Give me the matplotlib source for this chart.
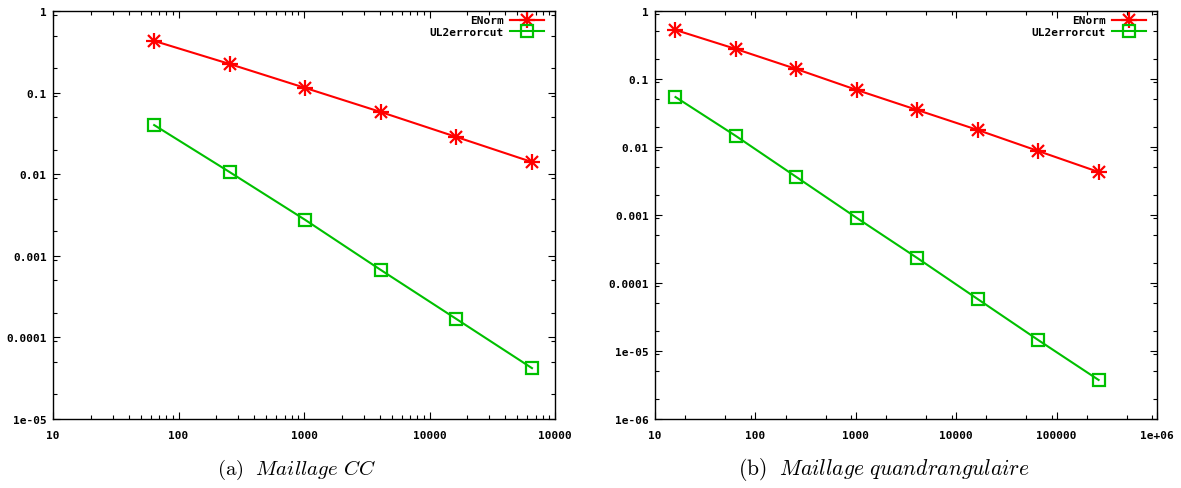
import numpy as np
import matplotlib
matplotlib.use("Agg")
import matplotlib.pyplot as plt
from matplotlib.ticker import LogLocator, NullFormatter

# left panel: Maillage CC
n_cc = [64, 256, 1024, 4096, 16384, 65536]
enorm_cc = [0.43, 0.224, 0.114, 0.0578, 0.0286, 0.0141]
ul2_cc = [0.040, 0.0106, 0.00275, 6.7e-4, 1.68e-4, 4.2e-5]

# right panel: Maillage quadrangulaire
n_q = [16, 64, 256, 1024, 4096, 16384, 65536, 262144]
enorm_q = [0.526, 0.276, 0.140, 0.0689, 0.035, 0.0178, 0.00873, 0.00429]
ul2_q = [0.0543, 0.0145, 0.00362, 9.04e-4, 2.33e-4, 5.8e-5, 1.45e-5, 3.75e-6]

xticks_cc = [10, 100, 1000, 10000, 100000]
xlabels_cc = ["10", "100", "1000", "10000", "10000"]
yticks_cc = [1, 0.1, 0.01, 0.001, 0.0001, 1e-5]
ylabels_cc = ["1", "0.1", "0.01", "0.001", "0.0001", "1e-05"]

xticks_q = [10, 100, 1000, 10000, 100000, 1e6]
xlabels_q = ["10", "100", "1000", "10000", "100000", "1e+06"]
yticks_q = [1, 0.1, 0.01, 0.001, 0.0001, 1e-5, 1e-6]
ylabels_q = ["1", "0.1", "0.01", "0.001", "0.0001", "1e-05", "1e-06"]

captions = [r"$\mathrm{(a)}\ \ \mathit{Maillage\ CC}$",
            r"$\mathrm{(b)}\ \ \mathit{Maillage\ quandrangulaire}$"]

plt.rcParams["mathtext.fontset"] = "cm"
tick_font = dict(family="DejaVu Sans Mono", weight="bold", size=8)
RED = "#ff0000"
GREEN = "#00c000"


def panel(ax, x, e, u, xt, xl, yt, yl, xlim, ylim, xsubs, ysubs):
    ax.set_xscale("log")
    ax.set_yscale("log")
    ax.plot(x, e, color=RED, lw=1.5)
    ax.plot(x, e, ls="none", marker="+", ms=12, mew=1.6, color=RED)
    ax.plot(x, e, ls="none", marker="x", ms=8.5, mew=1.6, color=RED)
    ax.plot(x, u, color=GREEN, lw=1.5, marker="s", ms=9, mfc="none", mew=1.6)
    ax.set_xlim(*xlim)
    ax.set_ylim(*ylim)
    ax.set_xticks(xt)
    ax.set_xticklabels(xl, fontdict=tick_font)
    ax.set_yticks(yt)
    ax.set_yticklabels(yl, fontdict=tick_font)
    ax.xaxis.set_minor_locator(LogLocator(base=10, subs=xsubs, numticks=50))
    ax.yaxis.set_minor_locator(LogLocator(base=10, subs=ysubs, numticks=50))
    ax.xaxis.set_minor_formatter(NullFormatter())
    ax.yaxis.set_minor_formatter(NullFormatter())
    ax.tick_params(which="both", direction="in", top=True, right=True, width=0.8)
    ax.tick_params(which="major", length=5)
    ax.tick_params(axis="x", which="major", pad=8)
    ax.tick_params(axis="y", which="major", pad=4.5)
    ax.tick_params(which="minor", length=3)
    for s in ax.spines.values():
        s.set_linewidth(1.0)

    # legend: line + asterisk and line + square, text on the left
    h1, = ax.plot([], [], color=RED, lw=1.5, marker="+", ms=12, mew=1.6)
    h1b, = ax.plot([], [], color=RED, lw=1.5, marker="x", ms=8.5, mew=1.6)
    h2, = ax.plot([], [], color=GREEN, lw=1.5, marker="s", ms=9, mfc="none", mew=1.6)
    ax.legend([(h1, h1b), h2], ["ENorm", "UL2errorcut"], loc="upper right",
              bbox_to_anchor=(1 - 7 / 502, 1.0),
              frameon=False, markerfirst=False, prop=tick_font,
              handlelength=3.0, handletextpad=0.6, labelspacing=0.15,
              borderaxespad=0.1, borderpad=0.3)


fig = plt.figure(figsize=(11.81, 4.89), dpi=100)
ax1 = fig.add_axes([53 / 1181, 69 / 489, 502 / 1181, 408 / 489])
ax2 = fig.add_axes([655 / 1181, 69 / 489, 502 / 1181, 408 / 489])

panel(ax1, n_cc, enorm_cc, ul2_cc, xticks_cc, xlabels_cc, yticks_cc, ylabels_cc,
      (10, 1e5), (1e-5, 1), np.arange(2, 10), (2, 5, 9))
panel(ax2, n_q, enorm_q, ul2_q, xticks_q, xlabels_q, yticks_q, ylabels_q,
      (10, 1e6), (1e-6, 1), (2, 5, 9), (2, 5, 9))

fig.text(296 / 1181, 1 - 470 / 489, captions[0], ha="center", va="center", fontsize=15)
fig.text(884 / 1181, 1 - 470 / 489, captions[1], ha="center", va="center", fontsize=15.5)

fig.savefig("out.png", dpi=100)
